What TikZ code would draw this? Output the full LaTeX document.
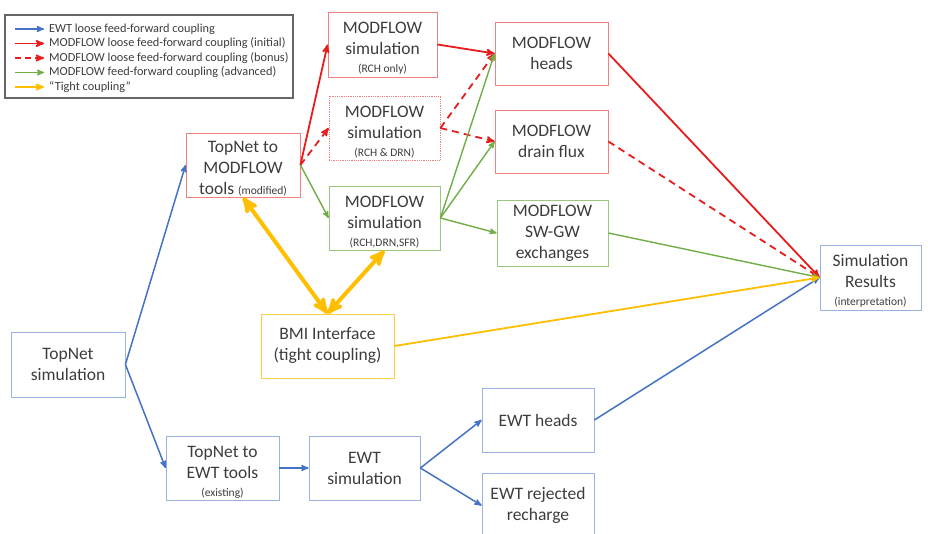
\documentclass[tikz,border=0pt]{standalone}
\usepackage{fontspec}
\setmainfont{Carlito}
\usepackage{xcolor}
\usepackage{tikz}
\usetikzlibrary{arrows,shapes}

\definecolor{ewtblue}{RGB}{68,114,196}
\definecolor{mfred}{RGB}{232,28,28}
\definecolor{mfgreen}{RGB}{112,173,71}
\definecolor{bmiyellow}{RGB}{255,190,0}
\definecolor{txtgray}{RGB}{60,60,60}

\newcommand{\smalltag}[1]{{\fontsize{11.5}{13}\selectfont #1}}
\newcommand{\tallstrut}{\rule{0pt}{19pt}}

\tikzset{
	box/.style={draw,rectangle,align=center,text=txtgray,inner sep=0pt,line width=0.8pt,
		font=\fontsize{17.5}{21}\selectfont},
	bluebox/.style={box,draw=ewtblue!55},
	redbox/.style={box,draw=mfred!55},
	greenbox/.style={box,draw=mfgreen!70},
	yellowbox/.style={box,draw=bmiyellow!75},
	legtext/.style={anchor=west,inner sep=5pt,text=txtgray,font=\fontsize{12.3}{14}\selectfont},
	blueline/.style={draw=ewtblue,line width=1.5pt},
	redline/.style={draw=mfred,line width=1.8pt},
	reddash/.style={draw=mfred,line width=1.8pt,dash pattern=on 7pt off 5pt},
	greenline/.style={draw=mfgreen,line width=1.4pt},
	yellowline/.style={draw=bmiyellow,line width=1.8pt},
	yellowthick/.style={draw=bmiyellow,line width=4pt}
}

\begin{document}
\begin{tikzpicture}[x=1pt,y=-1pt]
	\useasboundingbox (0,0) rectangle (928,534);
	%
	%  LEGEND
	%
	\draw[gray!80!black,line width=1.2pt] (5,15) rectangle (293,98);
	\coordinate (l1) at (15,29);
	\coordinate (l2) at (15,43.5);
	\coordinate (l3) at (15,58);
	\coordinate (l4) at (15,72.5);
	\coordinate (l5) at (15,87);
	\node[legtext] (T1) at (44,29) {EWT loose feed-forward coupling};
	\node[legtext] (T2) at (44,43.5) {MODFLOW loose feed-forward coupling (initial)};
	\node[legtext] (T3) at (44,58) {MODFLOW loose feed-forward coupling (bonus)};
	\node[legtext] (T4) at (44,72.5) {MODFLOW feed-forward coupling (advanced)};
	\node[legtext] (T5) at (44,87) {``Tight coupling''};
	%
	%  BOXES
	%
	\node[bluebox,minimum width=114pt,minimum height=65pt] (TS) at (68,364.5) {TopNet\\simulation};
	\node[redbox,minimum width=114pt,minimum height=64pt] (TM) at (243,165) {\tallstrut TopNet to\\MODFLOW\\tools \smalltag{(modified)}};
	\node[bluebox,minimum width=113pt,minimum height=64pt] (TE) at (222.5,468) {\tallstrut TopNet to\\EWT tools\\[-3pt]\smalltag{(existing)}};
	\node[bluebox,minimum width=111pt,minimum height=64pt] (ES) at (364.5,468) {EWT\\simulation};
	\node[bluebox,minimum width=112pt,minimum height=64pt] (EH) at (538,420) {EWT heads};
	\node[bluebox,minimum width=112pt,minimum height=65pt] (ER) at (538,505.5) {EWT rejected\\recharge};
	\node[redbox,minimum width=109pt,minimum height=65pt] (M1) at (382.5,44.5) {\tallstrut MODFLOW\\simulation\\[-3pt]\smalltag{(RCH only)}};
	\node[redbox,densely dotted,minimum width=111pt,minimum height=64pt] (M2) at (384.5,128) {\tallstrut MODFLOW\\simulation\\[-3pt]\smalltag{(RCH \& DRN)}};
	\node[greenbox,minimum width=111pt,minimum height=64pt] (M3) at (384.5,218) {\tallstrut MODFLOW\\simulation\\[-3pt]\smalltag{(RCH,DRN,SFR)}};
	\node[redbox,minimum width=113pt,minimum height=63pt] (MH) at (551.5,53.5) {MODFLOW\\heads};
	\node[redbox,minimum width=113pt,minimum height=63pt] (MD) at (551.5,141.5) {MODFLOW\\drain flux};
	\node[greenbox,minimum width=111pt,minimum height=66pt] (MS) at (552.5,233) {MODFLOW\\SW-GW\\exchanges};
	\node[bluebox,minimum width=101pt,minimum height=65pt] (SR) at (870.5,277.5) {\tallstrut Simulation\\Results\\[-3pt]\smalltag{(interpretation)}};
	\node[yellowbox,minimum width=133pt,minimum height=64pt] (BM) at (327.5,346) {BMI Interface\\(tight coupling)};
	%
	\path[->,>=stealth']
	(l1) edge[blueline] (T1.west)
	(l2) edge[redline] (T2.west)
	(l3) edge[reddash,dash pattern=on 6pt off 4pt] (T3.west)
	(l4) edge[greenline] (T4.west)
	(l5) edge[yellowline] (T5.west)
	% EWT chain
	(TS.east) edge[blueline] (TM.west)
	(TS.east) edge[blueline] (TE.west)
	(TE.east) edge[blueline] (ES.west)
	(ES.east) edge[blueline] (EH.west)
	(ES.east) edge[blueline] (ER.west)
	(EH.east) edge[blueline] (SR.west)
	% MODFLOW initial
	(TM.east) edge[redline] (M1.west)
	(M1.east) edge[redline] (MH.west)
	(MH.east) edge[redline] (SR.west)
	% MODFLOW bonus
	(TM.east) edge[reddash] (M2.west)
	(M2.east) edge[reddash] (MH.west)
	(M2.east) edge[reddash] (MD.west)
	(MD.east) edge[reddash] (SR.west)
	% MODFLOW advanced
	(TM.east) edge[greenline] (M3.west)
	(M3.east) edge[greenline] (MH.west)
	(M3.east) edge[greenline] (MD.west)
	(M3.east) edge[greenline] (MS.west)
	(MS.east) edge[greenline] (SR.west)
	% tight coupling
	(BM.east) edge[yellowline] (SR.west)
	(BM.north) edge[yellowthick,<->] (TM.south)
	(BM.north) edge[yellowthick,<->] (M3.south);
\end{tikzpicture}
\end{document}
